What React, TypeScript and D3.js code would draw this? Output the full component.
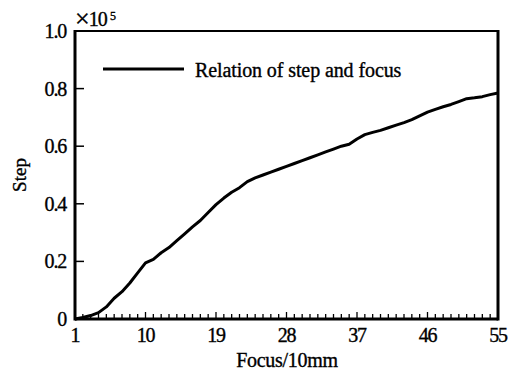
import React from "react";
import * as d3 from "d3";

// focus positions (x 10mm) and motor steps (x 10^5)
const focus = d3.range(1, 56);
const steps = [
  0, 0.005, 0.012, 0.022, 0.042, 0.072, 0.095, 0.125, 0.16, 0.195,
  0.207, 0.23, 0.248, 0.272, 0.296, 0.32, 0.342, 0.37, 0.397, 0.42,
  0.44, 0.456, 0.477, 0.49, 0.5, 0.51, 0.52, 0.53, 0.54, 0.55,
  0.56, 0.57, 0.58, 0.59, 0.6, 0.607, 0.625, 0.64, 0.648, 0.655,
  0.664, 0.673, 0.682, 0.692, 0.705, 0.718, 0.728, 0.737, 0.745, 0.755,
  0.765, 0.768, 0.772, 0.779, 0.785,
];
const xTicks = [1, 10, 19, 28, 37, 46, 55];
const yTicks = [0, 0.2, 0.4, 0.6, 0.8, 1.0];
const yTickLabels = ["0", "0.2", "0.4", "0.6", "0.8", "1.0"];
const legendLabel = "Relation of step and focus";

const W = 512;
const H = 372;
const L = 75;
const R = 498;
const T = 31;
const B = 319;
const FONT = "'Liberation Serif', 'DejaVu Serif', serif";

export default function App() {
  const x = d3.scaleLinear().domain([1, 55]).range([L, R]);
  const y = d3.scaleLinear().domain([0, 1]).range([B, T]);
  const line = d3
    .line<number>()
    .x((_, i) => x(focus[i]))
    .y((d) => y(d))
    .curve(d3.curveLinear);

  const txt = { stroke: "#000", strokeWidth: 0.35 };

  return (
    <svg
      width={W}
      height={H}
      style={{ position: "absolute", left: 0, top: 0, background: "#fff" }}
      fontFamily={FONT}
    >
      <rect width={W} height={H} fill="#fff" />

      {/* minor ticks on x, pointing up */}
      {focus.map((f) => (
        <line
          key={"mx" + f}
          x1={x(f)}
          x2={x(f)}
          y1={B}
          y2={B - (xTicks.includes(f) ? 7 : 5)}
          stroke="#000"
          strokeWidth={1.3}
        />
      ))}
      {/* y ticks, pointing right */}
      {yTicks.slice(1, -1).map((t) => (
        <line
          key={"ty" + t}
          x1={L}
          x2={L + 9}
          y1={y(t)}
          y2={y(t)}
          stroke="#000"
          strokeWidth={1.5}
        />
      ))}

      {/* frame */}
      <line x1={L} x2={R} y1={T} y2={T} stroke="#000" strokeWidth={2.2} />
      <line x1={L} x2={R} y1={B} y2={B} stroke="#000" strokeWidth={3} />
      <line x1={L} x2={L} y1={T - 1} y2={B + 1.5} stroke="#000" strokeWidth={3} />
      <line x1={R} x2={R} y1={T - 1} y2={B + 1.5} stroke="#000" strokeWidth={3} />

      <path d={line(steps) ?? ""} fill="none" stroke="#000" strokeWidth={3} strokeLinejoin="round" />

      {/* tick labels */}
      {xTicks.map((t) => (
        <text
          key={"lx" + t}
          x={x(t)}
          y={342}
          textAnchor="middle"
          fontSize={20}
          letterSpacing={-1.2}
          {...txt}
        >
          {t}
        </text>
      ))}
      {yTicks.map((t, i) => (
        <text
          key={"ly" + t}
          x={66}
          y={y(t) + 7}
          textAnchor="end"
          fontSize={20}
          letterSpacing={-1.2}
          {...txt}
        >
          {yTickLabels[i]}
        </text>
      ))}

      {/* exponent */}
      <text x={75} y={26} fontSize={20} letterSpacing={-1} {...txt}>
        <tspan fontSize={26} dy={1}>×</tspan>
        <tspan dy={-1}>10</tspan>
      </text>
      <text x={110} y={20} fontSize={12} {...txt}>
        5
      </text>

      {/* axis titles */}
      <text x={287} y={367} textAnchor="middle" fontSize={20} letterSpacing={-0.3} {...txt}>
        Focus/10mm
      </text>
      <text
        transform={`translate(26,${(T + B) / 2}) rotate(-90)`}
        textAnchor="middle"
        fontSize={19}
        {...txt}
      >
        Step
      </text>

      {/* legend */}
      <line x1={103} x2={184} y1={69} y2={69} stroke="#000" strokeWidth={3} />
      <text x={195} y={77} fontSize={20} letterSpacing={-0.1} {...txt}>
        {legendLabel}
      </text>
    </svg>
  );
}
